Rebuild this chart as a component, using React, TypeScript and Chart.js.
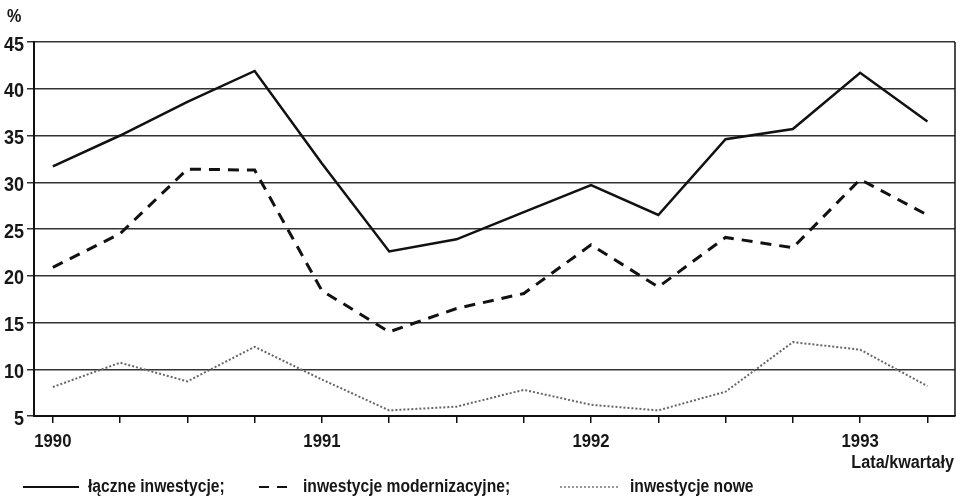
import React, { useEffect, useRef } from "react";
import { Chart, registerables } from "chart.js";

Chart.register(...registerables);

const quarters = ["1990 I", "1990 II", "1990 III", "1990 IV", "1991 I", "1991 II", "1991 III", "1991 IV", "1992 I", "1992 II", "1992 III", "1992 IV", "1993 I", "1993 II"];
const yearLabels = ["1990", "1991", "1992", "1993"];
const totalInv = [31.7, 35.0, 38.6, 41.9, 32.0, 22.6, 23.9, 26.8, 29.7, 26.5, 34.6, 35.7, 41.7, 36.5];
const modernInv = [20.9, 24.5, 31.4, 31.3, 18.4, 14.0, 16.5, 18.1, 23.3, 18.8, 24.1, 23.0, 30.3, 26.5];
const newInv = [8.1, 10.7, 8.7, 12.4, 8.9, 5.6, 6.0, 7.8, 6.2, 5.6, 7.6, 12.9, 12.1, 8.2];
const seriesNames = ["łączne inwestycje;", "inwestycje modernizacyjne;", "inwestycje nowe"];
const yTicks = [5, 10, 15, 20, 25, 30, 35, 40, 45];

const FONT = "'Liberation Sans', Arial, sans-serif";

const toPts = (arr: number[]) => arr.map((v, i) => ({ x: i, y: v }));

function condensedText(ctx: CanvasRenderingContext2D, text: string, x: number, y: number, align: "left" | "right" | "center", font: string, squeeze: number) {
  ctx.save();
  ctx.font = font;
  ctx.textBaseline = "middle";
  ctx.textAlign = "left";
  const w = ctx.measureText(text).width * squeeze;
  let left = x;
  if (align === "right") left = x - w;
  if (align === "center") left = x - w / 2;
  ctx.translate(left, y);
  ctx.scale(squeeze, 1);
  ctx.fillText(text, 0, 0);
  ctx.restore();
}

export default function App() {
  const ref = useRef<HTMLCanvasElement | null>(null);
  useEffect(() => {
    document.body.style.margin = "0";
    const canvas = ref.current;
    if (!canvas) return;
    const extras = {
      id: "extras",
      afterDraw(chart: any) {
        const ctx = chart.ctx as CanvasRenderingContext2D;
        const a = chart.chartArea;
        const xs = chart.scales.x;
        const ys = chart.scales.y;
        ctx.save();
        ctx.strokeStyle = "#111";
        ctx.lineWidth = 1.5;
        ctx.beginPath();
        ctx.moveTo(a.right, a.top);
        ctx.lineTo(a.right, a.bottom);
        ctx.stroke();
        ctx.fillStyle = "#161616";
        const tickFont = `bold 20px ${FONT}`;
        for (const v of yTicks) {
          condensedText(ctx, String(v), 24, ys.getPixelForValue(v) + 3, "right", tickFont, 0.9);
        }
        yearLabels.forEach((lab, i) => {
          condensedText(ctx, lab, xs.getPixelForValue(i * 4), 442, "center", `bold 19px ${FONT}`, 0.88);
        });
        condensedText(ctx, "%", 7, 17, "left", `bold 18px ${FONT}`, 0.9);
        condensedText(ctx, "Lata/kwartały", 954, 463, "right", `bold 18px ${FONT}`, 0.9);
        // legend
        const ly = 487;
        const items = [
          { x1: 23, x2: 79, tx: 88, dash: [] as number[], w: 2.2, c: "#111", name: seriesNames[0] },
          { x1: 259, x2: 293, tx: 303, dash: [10, 8], w: 2.2, c: "#111", name: seriesNames[1] },
          { x1: 560, x2: 620, tx: 630, dash: [2, 2], w: 1.5, c: "#777", name: seriesNames[2] },
        ];
        for (const it of items) {
          ctx.strokeStyle = it.c;
          ctx.lineWidth = it.w;
          ctx.setLineDash(it.dash);
          ctx.beginPath();
          ctx.moveTo(it.x1, ly);
          ctx.lineTo(it.x2, ly);
          ctx.stroke();
          ctx.setLineDash([]);
          condensedText(ctx, it.name, it.tx, ly, "left", `bold 18px ${FONT}`, 0.87);
        }
        ctx.restore();
      },
    };
    const chart = new Chart(canvas, {
      type: "line",
      data: {
        datasets: [
          { label: seriesNames[0], data: toPts(totalInv), borderColor: "#111", borderWidth: 2.5, pointRadius: 0, tension: 0 },
          { label: seriesNames[1], data: toPts(modernInv), borderColor: "#111", borderWidth: 3, borderDash: [11, 8], pointRadius: 0, tension: 0 },
          { label: seriesNames[2], data: toPts(newInv), borderColor: "#666", borderWidth: 2, borderDash: [2, 2], pointRadius: 0, tension: 0 },
        ],
      },
      options: {
        responsive: false,
        animation: false,
        layout: { padding: { top: 42, right: 1, left: 0, bottom: 0 } },
        plugins: { legend: { display: false }, tooltip: { enabled: false } },
        scales: {
          x: {
            type: "linear",
            min: -0.28,
            max: 13.41,
            afterBuildTicks: (s: any) => {
              s.ticks = quarters.map((_, i) => ({ value: i }));
            },
            afterFit: (s: any) => {
              s.height = 87;
            },
            ticks: { display: false, autoSkip: false, maxRotation: 0 },
            grid: { drawOnChartArea: false, drawTicks: true, tickLength: 7, color: "#111", lineWidth: 1.5 },
            border: { display: true, color: "#111", width: 2 },
          },
          y: {
            min: 5,
            max: 45,
            afterBuildTicks: (s: any) => {
              s.ticks = yTicks.map((v) => ({ value: v }));
            },
            afterFit: (s: any) => {
              s.width = 34;
            },
            ticks: { display: false },
            grid: { color: "#333", lineWidth: 1.5, tickLength: 7, drawTicks: true },
            border: { display: true, color: "#111", width: 2 },
          },
        },
      },
      plugins: [extras],
    } as any);
    return () => chart.destroy();
  }, []);
  return <canvas ref={ref} width={956} height={503} style={{ display: "block" }} />;
}
